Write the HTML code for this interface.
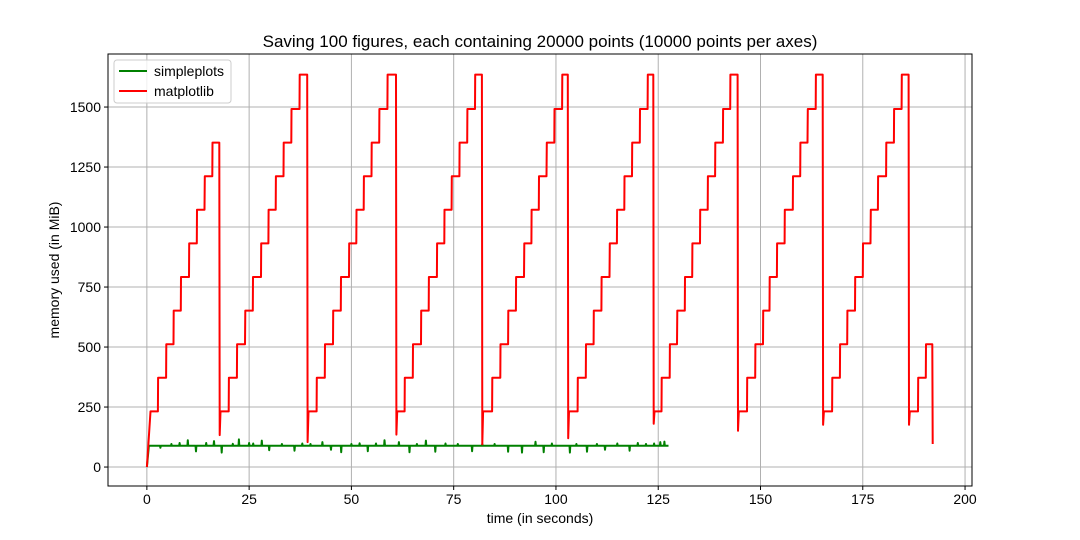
<!DOCTYPE html>
<html><head><meta charset="utf-8"><style>
body{margin:0;background:#fff;}
svg{display:block;font-family:"Liberation Sans","DejaVu Sans",sans-serif;}
</style></head><body>
<svg id="chart" width="1080" height="540" viewBox="0 0 1080 540">
<rect width="1080" height="540" fill="#fff"/>
<text x="540" y="47" font-size="17" text-anchor="middle" fill="#000">Saving 100 figures, each containing 20000 points (10000 points per axes)</text>
<g id="grid"></g>
<g id="series"></g>
<rect x="108" y="54" width="864" height="432" fill="none" stroke="#000" stroke-width="1"/>
<g id="ticks"></g>
<text x="540" y="523" font-size="14" text-anchor="middle">time (in seconds)</text>
<text transform="translate(59,270) rotate(-90)" font-size="14" text-anchor="middle">memory used (in MiB)</text>
<g>
<rect x="114" y="60" width="117" height="43" rx="3" fill="#fff" fill-opacity="0.8" stroke="#ccc"/>
<line x1="119" y1="71" x2="147" y2="71" stroke="green" stroke-width="2"/>
<text x="154" y="76" font-size="14">simpleplots</text>
<line x1="119" y1="91" x2="147" y2="91" stroke="red" stroke-width="2"/>
<text x="154" y="96" font-size="14">matplotlib</text>
</g>
</svg>
<script>
const xTicks=[0,25,50,75,100,125,150,175,200];
const yTicks=[0,250,500,750,1000,1250,1500];
const levels=[232,372,512,652,792,932,1072,1212,1352,1492,1635];
const cycleSteps=[
[2.7,4.7,6.5,8.3,10.3,12.2,14.1,16.0],
[20.0,22.0,24.0,25.9,27.9,29.7,31.5,33.4,35.3,37.3],
[41.5,43.5,45.5,47.4,49.4,51.2,53.0,54.9,56.8,58.8],
[63.0,65.0,67.0,68.9,70.9,72.7,74.5,76.4,78.3,80.2],
[84.4,86.4,88.3,90.2,92.2,94.0,95.8,97.7,99.6,101.5],
[105.3,107.3,109.2,111.1,113.1,114.9,116.7,118.6,120.5,122.4],
[125.8,127.8,129.6,131.5,133.3,135.2,137.1,138.9,140.8,142.6],
[146.7,148.7,150.6,152.2,154.0,155.9,157.9,159.7,161.5,163.5],
[167.5,169.4,171.2,173.1,175.0,176.9,178.7,180.7,182.6,184.5],
[188.5,190.4]
];
const dropTimes=[17.7,39.2,60.9,81.9,102.9,123.8,144.4,165.2,186.2,192.0];
const dropMins=[133,104,135,95,120,180,151,176,176,96];
const greenBase=89;
const greenEnd=127.5;
const spikeTimes=[3.3,6,8,10,12,14.5,16.4,18.3,21,22.5,25,26,28.1,29.9,33,36.1,38,40,42.9,45,47.5,50,52,54,56,58.1,61.6,64.2,66,68.2,70.5,73,76,79.5,82,85,88.3,91.7,95,97,99,103.4,105,107.6,110,112,115,118,120,122,124,125.5,126.5];
const spikeVals=[80,96,100,112,65,100,108,60,97,115,100,98,110,70,96,68,98,96,104,72,62,96,99,66,98,112,104,62,96,110,64,98,96,66,96,96,64,60,105,62,98,60,96,64,96,72,98,68,100,96,98,104,106];

const X0=108,X1=972,Y0=54,Y1=486,xmin=-9.5,xmax=201.7,ymin=-79,ymax=1721;
const sx=v=>X0+(v-xmin)/(xmax-xmin)*(X1-X0);
const sy=v=>Y1-(v-ymin)/(ymax-ymin)*(Y1-Y0);
const NS='http://www.w3.org/2000/svg';
const grid=document.getElementById('grid'),ticks=document.getElementById('ticks'),series=document.getElementById('series');
function mk(tag,attrs,parent){const e=document.createElementNS(NS,tag);for(const k in attrs)e.setAttribute(k,attrs[k]);parent.appendChild(e);return e;}
xTicks.forEach(t=>{
  const g=mk('line',{x1:sx(t),x2:sx(t),y1:Y0,y2:Y1,stroke:'#b0b0b0','stroke-width':1},grid);
  
  
  const tk=mk('line',{x1:sx(t),x2:sx(t),y1:Y1,y2:Y1+4,stroke:'#000'},ticks);
  
  
  const tx=mk('text',{x:sx(t),y:Y1+18,'font-size':14,'text-anchor':'middle'},ticks);
  tx.textContent=t;
  
  
});
yTicks.forEach(t=>{
  const g=mk('line',{x1:X0,x2:X1,y1:sy(t),y2:sy(t),stroke:'#b0b0b0','stroke-width':1},grid);
  
  
  const tk=mk('line',{x1:X0-4,x2:X0,y1:sy(t),y2:sy(t),stroke:'#000'},ticks);
  
  
  const tx=mk('text',{x:X0-7,y:sy(t)+5,'font-size':14,'text-anchor':'end'},ticks);
  tx.textContent=t;
  
  
});
let gp=[[0,0],[0.5,greenBase]];
spikeTimes.forEach((t,i)=>{gp.push([t-0.1,greenBase],[t,spikeVals[i]],[t+0.1,greenBase]);});
gp.push([greenEnd,greenBase]);
const gl=mk('polyline',{points:gp.map(p=>sx(p[0]).toFixed(1)+','+sy(p[1]).toFixed(1)).join(' '),fill:'none',stroke:'green','stroke-width':2,'stroke-linejoin':'round'},series);


let rp=[[0,0],[0.9,levels[0]]];
cycleSteps.forEach((steps,c)=>{
  let lvl=levels[0];
  steps.forEach((t,i)=>{rp.push([t,lvl]);lvl=levels[i+1];rp.push([t+0.05,lvl]);});
  const d=dropTimes[c];
  rp.push([d,lvl],[d+0.1,dropMins[c]]);
  if(c<cycleSteps.length-1) rp.push([d+0.3,levels[0]]);
});
const rl=mk('polyline',{points:rp.map(p=>sx(p[0]).toFixed(1)+','+sy(p[1]).toFixed(1)).join(' '),fill:'none',stroke:'red','stroke-width':2,'stroke-linejoin':'round'},series);


</script>
</body></html>
